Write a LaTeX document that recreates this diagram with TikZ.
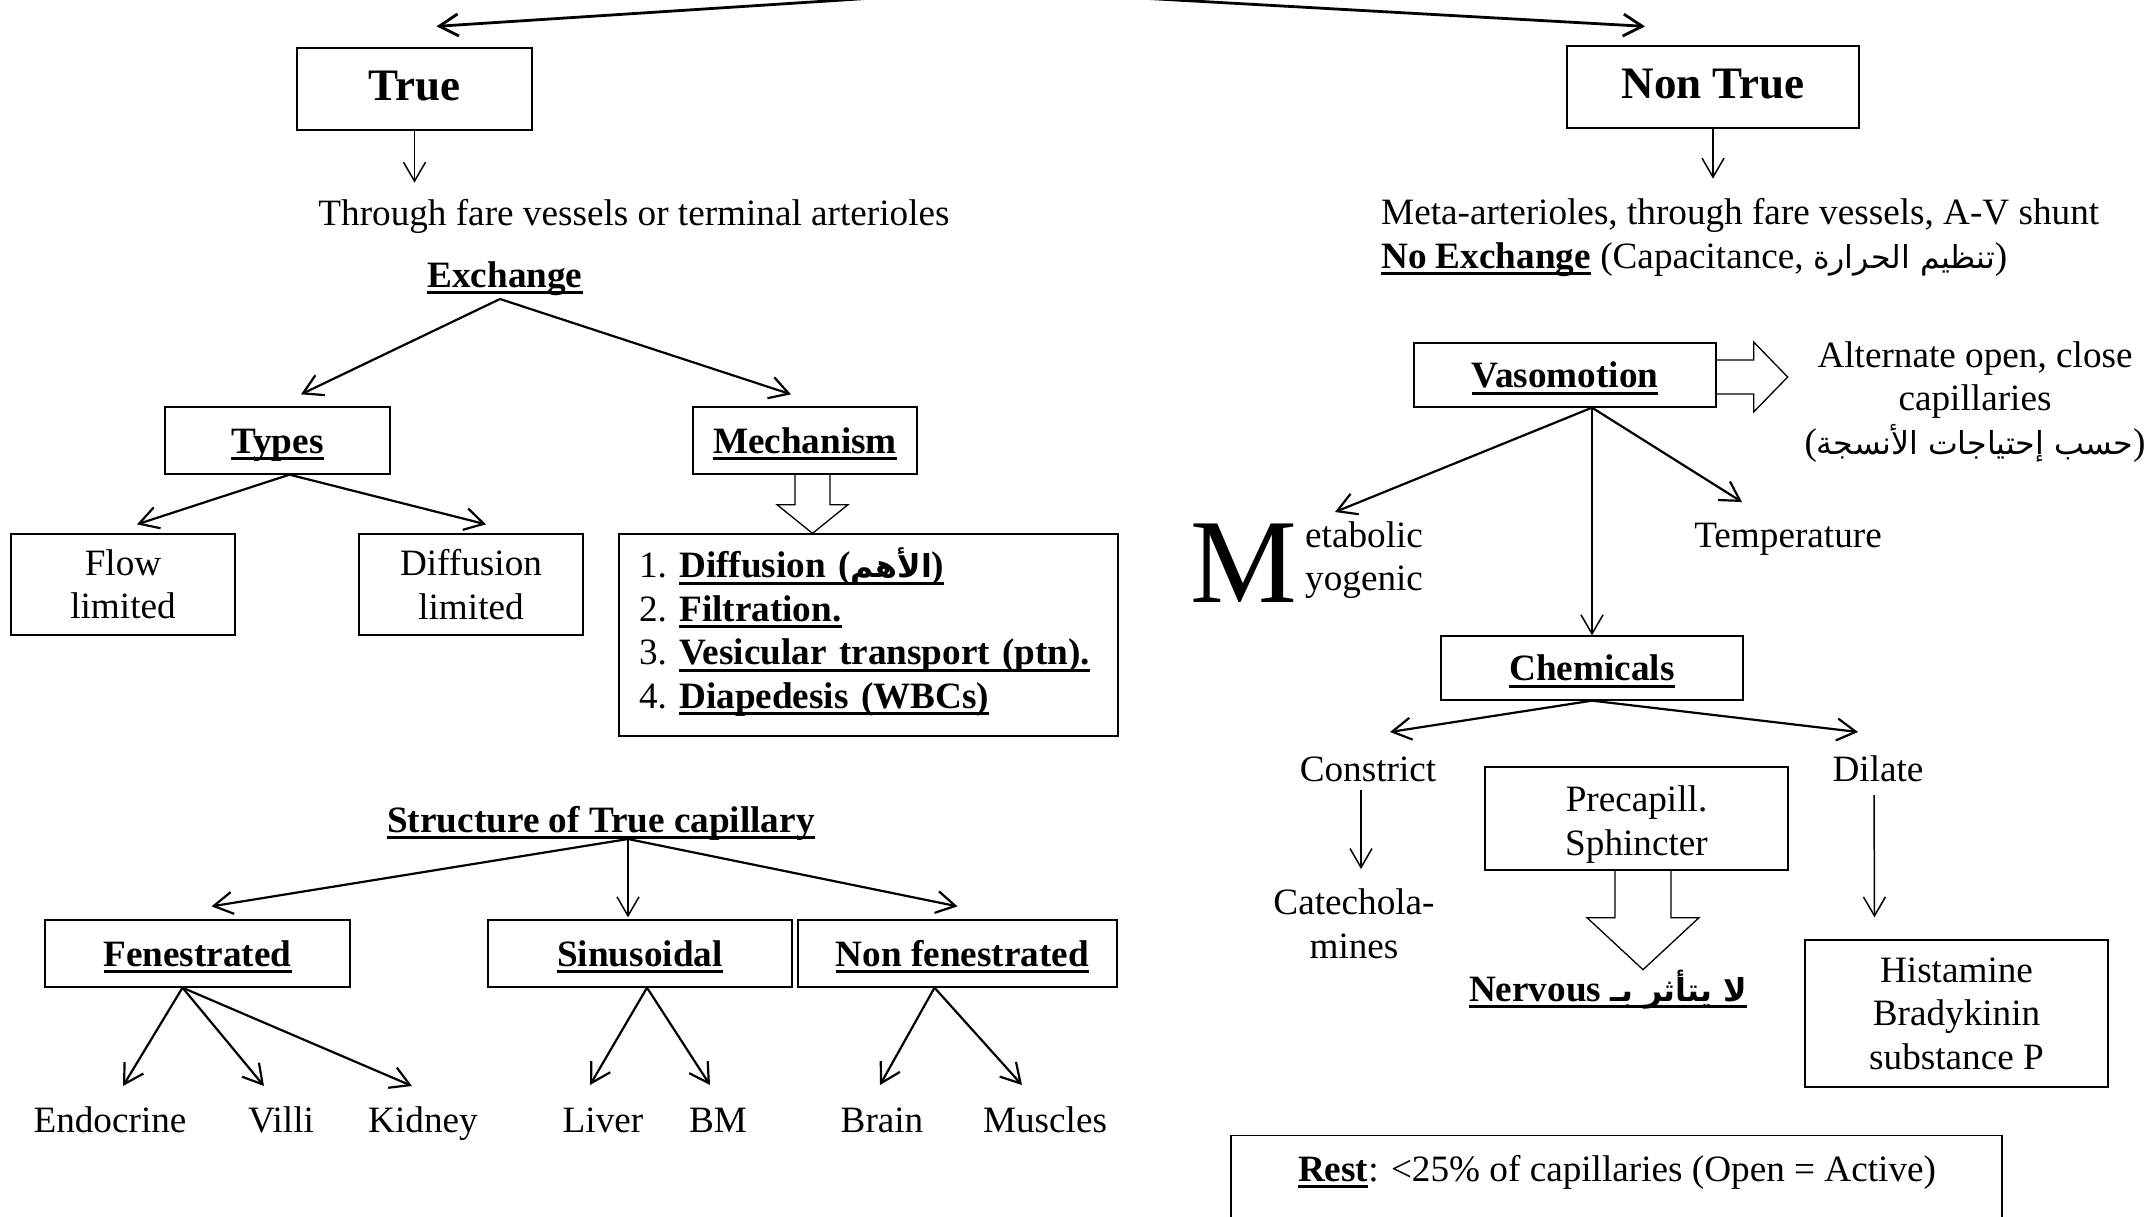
\documentclass[tikz,border=0pt]{standalone}
\usepackage{fontspec}
\setmainfont{Liberation Serif}
\newfontfamily\arabicfont[Script=Arabic,Scale=0.85]{DejaVu Sans}
\TeXXeTstate=1
\usetikzlibrary{arrows.meta,calc}

% thick underline as used for headings
\newcommand\myul[1]{\leavevmode\setbox0=\hbox{#1}\rlap{\rule[-7pt]{\wd0}{2.8pt}}\box0}
\newcommand\hfont{\fontsize{45}{52}\selectfont\bfseries}

\tikzset{
  box/.style={draw, line width=1.3pt, inner sep=0pt, align=center},
  onel/.style={text height=25.4pt, text depth=0pt},
  bigl/.style={text height=23pt, text depth=0pt},
  txt/.style={inner sep=0pt},
  arr/.style={-{Straight Barb[length=19pt,width=22pt]}, line width=2.2pt},
  varr/.style={-{Straight Barb[length=19pt,width=22pt]}, line width=1.5pt},
  fat/.style={draw, line width=1.3pt, line join=miter},
}

\begin{document}
\begin{tikzpicture}[x=1pt,y=-1pt]
\fontsize{37.2}{43.5}\selectfont
\useasboundingbox[fill=white] (0,0) rectangle (2149,1216);

% ---------------- left branch: true capillaries ----------------
\node[box, bigl, minimum width=235pt, minimum height=82pt, font=\hfont] (true) at (414.5,89) {True};
\node[txt, anchor=base] (through) at (634,225) {Through fare vessels or terminal arterioles};
\node[txt, anchor=base, font=\bfseries] (exch) at (505,287) {\myul{Exchange}};

\node[box, onel, minimum width=225pt, minimum height=67pt, font=\bfseries] (types) at (277.5,440.5) {\myul{Types}};
\node[box, onel, minimum width=224pt, minimum height=67pt, font=\bfseries] (mech) at (805,440.5) {\myul{Mechanism}};

\node[box, minimum width=224pt, minimum height=101pt] (flow) at (123,584.5) {Flow\\limited};
\node[box, minimum width=224pt, minimum height=101pt] (diff) at (471,584.5) {Diffusion\\limited};

\node[box, text width=459pt, inner xsep=20pt, align=left, minimum height=202pt] (list) at (868.5,635)
  {1.\ \myul{\textbf{Diffusion ({\arabicfont\beginR الأهم\endR})}}\\
   2.\ \myul{\textbf{Filtration.}}\\
   3.\ \myul{\textbf{Vesicular transport (ptn).}}\\
   4.\ \myul{\textbf{Diapedesis (WBCs)}}\rule[-14pt]{0pt}{1pt}};

\node[txt, anchor=base, font=\bfseries] (struct) at (601,832) {\myul{Structure of True capillary}};
\node[box, onel, minimum width=305pt, minimum height=67pt, font=\bfseries] (fen) at (197.5,953.5) {\myul{Fenestrated}};
\node[box, onel, minimum width=304pt, minimum height=67pt, font=\bfseries] (sin) at (640,953.5) {\myul{Sinusoidal}};
\node[box, onel, minimum width=319pt, minimum height=67pt, font=\bfseries] (nonfen) at (957.5,953.5) {\hspace{10pt}\myul{Non fenestrated}};

\node[txt, anchor=base] (endo) at (110,1132) {Endocrine};
\node[txt, anchor=base] (villi) at (281,1132) {Villi};
\node[txt, anchor=base] (kid) at (423,1132) {Kidney};
\node[txt, anchor=base] (liver) at (603,1132) {Liver};
\node[txt, anchor=base] (bm) at (718,1132) {BM};
\node[txt, anchor=base] (brain) at (882,1132) {Brain};
\node[txt, anchor=base] (mus) at (1045,1132) {Muscles};

% ---------------- right branch: non true capillaries ----------------
\node[box, bigl, minimum width=292pt, minimum height=82pt, font=\hfont] (nontrue) at (1713,87) {Non True};
\node[txt, anchor=base west] (meta) at (1381,224) {Meta-arterioles, through fare vessels, A-V shunt};
\node[txt, anchor=base west] (noex) at (1381,268) {\myul{\textbf{No Exchange}}\hspace{9.3pt}(Capacitance, {\arabicfont\beginR تنظيم الحرارة\endR})};

\node[box, onel, minimum width=302pt, minimum height=64pt, font=\bfseries] (vaso) at (1565,375) {\myul{Vasomotion}};
\node[txt, align=center] (alt) at (1975,402) {Alternate open, close\\capillaries\\({\arabicfont\beginR حسب إحتياجات الأنسجة\endR})};

\node[txt, anchor=base west, font=\fontsize{120}{120}\selectfont] (bigm) at (1190,602) {M};
\node[txt, anchor=base west] (etab) at (1305,547) {etabolic};
\node[txt, anchor=base west] (yog) at (1305,590) {yogenic};
\node[txt, anchor=base] (temp) at (1788,547) {Temperature};

\node[box, onel, minimum width=302pt, minimum height=64pt, font=\bfseries] (chem) at (1592,668) {\myul{Chemicals}};
\node[txt, anchor=base] (constr) at (1368,781) {Constrict};
\node[txt, anchor=base] (dilate) at (1878,781) {Dilate};
\node[txt, align=center] (catech) at (1354,924) {Catechola-\\mines};
\node[box, minimum width=303pt, minimum height=103pt] (precap) at (1636.5,818.5) {\rule{0pt}{38pt}Precapill.\\Sphincter};
\node[txt, anchor=base, font=\bfseries] (nerv) at (1608,1001) {\myul{Nervous {\arabicfont\beginR لا يتأثر بـ\endR}}};
\node[box, minimum width=303pt, minimum height=147pt] (hist) at (1956.5,1013.5) {Histamine\\Bradykinin\\substance P};

\node[box, minimum width=771pt, minimum height=130pt, anchor=north] (rest) at (1616.5,1135) {};
\node[txt, anchor=base] (resttxt) at (1617,1181) {\myul{\textbf{Rest}}: <25\% of capillaries (Open = Active)};

% ---------------- connectors ----------------
\coordinate (root) at (997,-10);
\draw[arr, line width=2.8pt] (root) -- ($(true.north)+(22,-21)$);
\draw[arr, line width=2.8pt] (root) -- ($(nontrue.north)+(-68,-19)$);

\draw[varr] (true.south) -- ++(0,52);
\draw[varr] (nontrue.south) -- ++(0,50);

\coordinate (xapex) at ($(exch.base)+(-5,12)$);
\draw[arr] (xapex) -- ($(types.north)+(23.5,-12)$);
\draw[arr] (xapex) -- ($(mech.north)+(-14,-12)$);

\coordinate (tapex) at ($(types.south)+(12,0)$);
\draw[arr] (tapex) -- ($(flow.north)+(14,-9)$);
\draw[arr] (tapex) -- ($(diff.north)+(15,-9)$);

% hollow arrow: mechanism -> list
\coordinate (ma) at ($(mech.south)+(7.5,0)$);
\draw[fat] ($(ma)+(-17.5,0)$) -- ($(ma)+(-17.5,30)$) -- ($(ma)+(-35.5,30)$) -- (list.north -| ma)
  -- ($(ma)+(35.5,30)$) -- ($(ma)+(17.5,30)$) -- ($(ma)+(17.5,0)$);

\coordinate (sapex) at ($(struct.base)+(27,7)$);
\draw[arr] (sapex) -- ($(fen.north)+(14,-13)$);
\draw[varr] (sapex) -- ($(sin.north)+(-12,-2)$);
\draw[arr] (sapex) -- ($(nonfen.north)+(0,-13)$);

\coordinate (fapex) at ($(fen.south)+(-15,0)$);
\draw[arr] (fapex) -- ($(endo.base)+(13,-46)$);
\draw[arr] (fapex) -- ($(villi.base)+(-17,-46)$);
\draw[arr] (fapex) -- ($(kid.base)+(-11,-46)$);

\coordinate (siapex) at ($(sin.south)+(7,0)$);
\draw[arr] (siapex) -- ($(liver.base)+(-13,-47)$);
\draw[arr] (siapex) -- ($(bm.base)+(-8,-47)$);

\coordinate (napex) at ($(nonfen.south)+(-23,0)$);
\draw[arr] (napex) -- ($(brain.base)+(-2,-47)$);
\draw[arr] (napex) -- ($(mus.base)+(-23,-47)$);

% hollow arrow: vasomotion -> description
\coordinate (va) at ($(vaso.east)+(0,2)$);
\draw[fat] ($(va)+(0,-17)$) -- ($(va)+(37,-17)$) -- ($(va)+(37,-35)$) -- ($(va)+(71,0)$)
  -- ($(va)+(37,35)$) -- ($(va)+(37,17)$) -- ($(va)+(0,17)$);

\coordinate (vapex) at (vaso.south -| chem.north);
\draw[arr] (vapex) -- ($(etab.base west)+(30,-35)$);
\draw[arr] (vapex) -- ($(temp.base)+(-46,-45)$);
\draw[varr] (vapex) -- (chem.north);

\draw[arr] (chem.south) -- ($(constr.base)+(22,-49)$);
\draw[arr] (chem.south) -- ($(dilate.base)+(-20,-49)$);

\draw[varr] ($(constr.base)+(-7,9)$) -- ($(catech.center)+(7,-55)$);
\draw[varr] ($(dilate.base)+(-4,14)$) -- ($(hist.north)+(-82,-22)$);

% hollow arrow: sphincter -> nervous
\coordinate (pa) at ($(precap.south)+(6.5,0)$);
\draw[fat] ($(pa)+(-28,0)$) -- ($(pa)+(-28,47)$) -- ($(pa)+(-56,47)$) -- ($(pa)+(0,99)$)
  -- ($(pa)+(56,47)$) -- ($(pa)+(28,47)$) -- ($(pa)+(28,0)$);
\end{tikzpicture}
\end{document}
